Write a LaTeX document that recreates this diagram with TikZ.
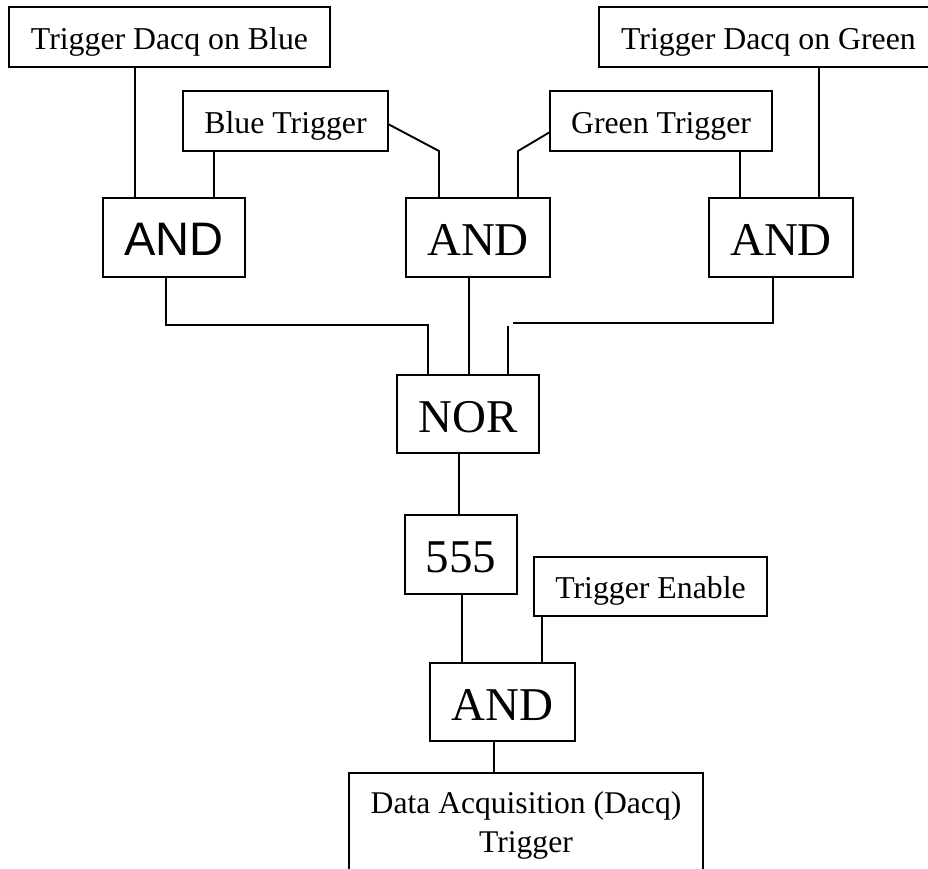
\documentclass[tikz,border=0pt]{standalone}
\usepackage{fontspec}
\setmainfont{Liberation Serif}
\newfontfamily\arialf{Liberation Sans}
\begin{document}
\begin{tikzpicture}[x=1pt,y=-1pt, line width=1.9pt,
  box/.style={draw, rectangle, inner sep=0pt, outer sep=0pt},
  small/.style={box, minimum height=60pt, font=\fontsize{31.8}{38}\selectfont, text height=24pt, text depth=0pt},
  big/.style={box, font=\fontsize{47}{56}\selectfont, text height=36pt, text depth=0pt},
  lbl/.style={inner sep=0pt, anchor=base, font=\fontsize{31.6}{38}\selectfont},
  wire/.style={draw}]
\useasboundingbox (0,0) rectangle (928,868);
\clip (0,0) rectangle (928,868);

\node[small, minimum width=321pt] (tdb) at (169.5,37) {Trigger Dacq on Blue};
\node[small, minimum width=205pt] (bt) at (285.5,121) {Blue Trigger};
\node[small, minimum width=339pt] (tdg) at (768.5,37) {Trigger Dacq on Green};
\node[small, minimum width=222pt] (gt) at (661,121) {Green Trigger};
\node[big, font=\arialf\fontsize{47}{56}\selectfont, minimum width=142pt, minimum height=79pt] (and1) at (174,237.5) {AND};
\node[big, minimum width=144pt, minimum height=79pt] (and2) at (478,237.5) {AND};
\node[big, minimum width=144pt, minimum height=79pt] (and3) at (781,237.5) {AND};
\node[big, minimum width=142pt, minimum height=78pt] (nor) at (468,414) {NOR};
\node[big, minimum width=112pt, minimum height=79pt] (t555) at (461,554.5) {555};
\node[small, minimum width=233pt, minimum height=59pt] (te) at (650.5,586.5) {Trigger Enable};
\node[big, minimum width=145pt, minimum height=78pt] (and4) at (502.5,702) {AND};
\node[box, minimum width=354pt, minimum height=140pt, anchor=north] (dacq) at (526,773) {};
\node[lbl] (dacqa) at (526,813) {Data Acquisition (Dacq)};
\node[lbl] (dacqb) at (526,852) {Trigger};

% inputs to top AND gates
\draw[wire] (135,0 |- tdb.south) -- (135,0 |- and1.north);
\draw[wire] (214,0 |- bt.south) -- (214,0 |- and1.north);
\draw[wire] (bt.east |- 0,124) -- (439,151) -- (439,0 |- and2.north);
\draw[wire] (gt.west |- 0,132) -- (518,151) -- (518,0 |- and2.north);
\draw[wire] (740,0 |- gt.south) -- (740,0 |- and3.north);
\draw[wire] (819,0 |- tdg.south) -- (819,0 |- and3.north);

% AND gates to NOR
\draw[wire] (166,0 |- and1.south) -- (166,325) -- (428,325) -- (428,0 |- nor.north);
\draw[wire] (469,0 |- and2.south) -- (469,0 |- nor.north);
\draw[wire] (773,0 |- and3.south) -- (773,323) -- (513,323);
\draw[wire] (508,326) -- (508,0 |- nor.north);

% lower chain
\draw[wire] (459,0 |- nor.south) -- (459,0 |- t555.north);
\draw[wire] (462,0 |- t555.south) -- (462,0 |- and4.north);
\draw[wire] (542,0 |- te.south) -- (542,0 |- and4.north);
\draw[wire] (494,0 |- and4.south) -- (494,0 |- dacq.north);
\end{tikzpicture}
\end{document}
